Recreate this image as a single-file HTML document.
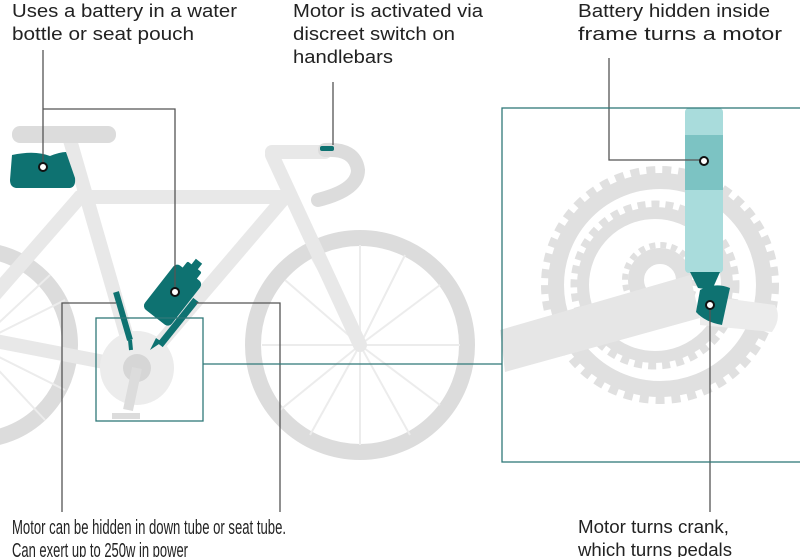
<!DOCTYPE html>
<html><head><style>html,body{margin:0;padding:0;background:#fff;}svg{display:block}</style></head>
<body>
<svg width="800" height="557" viewBox="0 0 800 557" xmlns="http://www.w3.org/2000/svg" font-family="'Liberation Sans', sans-serif" font-size="18" fill="#222">
<g stroke="#dcdcdc" fill="none">
<circle cx="-25" cy="345" r="95" stroke-width="16"/>
<circle cx="360" cy="345" r="107" stroke-width="16"/>
</g>
<g stroke="#ececec" stroke-width="2">
<line x1="360" y1="345" x2="360" y2="245"/><line x1="360" y1="345" x2="440" y2="285"/><line x1="360" y1="345" x2="460" y2="345"/><line x1="360" y1="345" x2="440" y2="405"/><line x1="360" y1="345" x2="360" y2="445"/><line x1="360" y1="345" x2="280" y2="410"/><line x1="360" y1="345" x2="262" y2="345"/><line x1="360" y1="345" x2="285" y2="280"/><line x1="360" y1="345" x2="405" y2="255"/><line x1="360" y1="345" x2="410" y2="435"/><line x1="360" y1="345" x2="310" y2="435"/><line x1="360" y1="345" x2="312" y2="258"/>
<line x1="-25" y1="345" x2="65" y2="300"/><line x1="-25" y1="345" x2="65" y2="390"/><line x1="-25" y1="345" x2="45" y2="420"/><line x1="-25" y1="345" x2="50" y2="275"/>
</g>
<g stroke="#e8e8e8" stroke-width="14" stroke-linecap="round" fill="none">
<line x1="70" y1="140" x2="135" y2="365"/>
<line x1="80" y1="197" x2="285" y2="197"/>
<line x1="285" y1="197" x2="150" y2="355"/>
<line x1="272" y1="155" x2="360" y2="345"/>
<line x1="-10" y1="340" x2="135" y2="368"/>
<line x1="80" y1="197" x2="-10" y2="300"/>
<path d="M272 152 L325 152"/>
</g>
<path d="M325 150 Q355 148 358 170 Q358 190 318 200" stroke="#dcdcdc" stroke-width="14" fill="none" stroke-linecap="round"/>
<rect x="320" y="146" width="14" height="5" rx="2" fill="#0e7271"/>
<rect x="12" y="126" width="104" height="17" rx="8" fill="#dcdcdc"/>
<path d="M12 155 Q35 150 50 156 Q60 152 66 152 L75 178 Q76 187 70 188 L16 188 Q10 187 10 180 Z" fill="#0e7271"/>
<circle cx="137" cy="368" r="37" fill="#ececec"/>
<circle cx="137" cy="368" r="14" fill="#d6d6d6"/>
<path d="M137 368 L128 410" stroke="#dcdcdc" stroke-width="10"/>
<rect x="112" y="413" width="28" height="6" fill="#dcdcdc"/>
<line x1="116" y1="292" x2="130" y2="340" stroke="#0e7271" stroke-width="6"/>
<path d="M130 340 L131 350" stroke="#0e7271" stroke-width="4"/>
<g transform="rotate(38 175 292)">
<rect x="158" y="268" width="34" height="56" rx="5" fill="#0e7271"/>
<rect x="166" y="260" width="18" height="10" rx="2" fill="#0e7271"/>
<rect x="171" y="253" width="8" height="8" fill="#0e7271"/>
</g>
<line x1="196" y1="300" x2="160" y2="345" stroke="#0e7271" stroke-width="7"/>
<path d="M162 342 L150 350 L156 338 Z" fill="#0e7271"/>
<!-- right detail gears -->
<g fill="none" stroke="#e0e0e0">
<circle cx="660" cy="285" r="104" stroke-width="16"/>
<circle cx="660" cy="285" r="115" stroke-width="8" stroke-dasharray="9 7"/>
<circle cx="655" cy="285" r="72" stroke-width="12"/>
<circle cx="655" cy="285" r="81" stroke-width="7" stroke-dasharray="8 6"/>
<circle cx="660" cy="280" r="24" stroke-width="16"/>
<circle cx="660" cy="280" r="35" stroke-width="6" stroke-dasharray="6 5"/>
</g>
<path d="M500 330 L690 275 L700 318 L505 372 Z" fill="#e6e6e6"/>
<path d="M700 295 L775 305 Q782 318 772 332 L700 325 Z" fill="#ececec"/>
<rect x="685" y="108" width="38" height="165" rx="4" fill="#a9dcdc"/>
<rect x="685" y="135" width="38" height="55" fill="#7cc3c3"/>
<path d="M690 272 L720 272 L712 290 L698 288 Z" fill="#0e7271"/>
<path d="M700 290 Q715 282 730 288 L722 325 Q705 322 696 312 Z" fill="#0e7271"/>
<g fill="none" stroke="#555" stroke-width="1.3">
<path d="M43 50 V165"/>
<path d="M43 109 H175 V290"/>
<path d="M333 82 V145"/>
<path d="M609 58 V160 H702"/>
<path d="M710 305 V512"/>
<path d="M62 512 V303 H116"/>
<path d="M196 303 H280 V512"/>
</g>
<g fill="none" stroke="#2f7878" stroke-width="1.3">
<rect x="96" y="318" width="107" height="103"/>
<path d="M203 364 H502"/>
<rect x="502" y="108" width="310" height="354"/>
</g>
<g fill="#fff" stroke="#111" stroke-width="2">
<circle cx="43" cy="167" r="4"/><circle cx="175" cy="292" r="4"/><circle cx="704" cy="161" r="4"/><circle cx="710" cy="305" r="4"/>
</g>
<text x="12" y="17" textLength="225" lengthAdjust="spacingAndGlyphs">Uses a battery in a water</text>
<text x="12" y="40" textLength="182" lengthAdjust="spacingAndGlyphs">bottle or seat pouch</text>
<text x="293" y="17" textLength="190" lengthAdjust="spacingAndGlyphs">Motor is activated via</text>
<text x="293" y="40" textLength="162" lengthAdjust="spacingAndGlyphs">discreet switch on</text>
<text x="293" y="63" textLength="100" lengthAdjust="spacingAndGlyphs">handlebars</text>
<text x="578" y="17" textLength="192" lengthAdjust="spacingAndGlyphs">Battery hidden inside</text>
<text x="578" y="40" textLength="204" lengthAdjust="spacingAndGlyphs">frame turns a motor</text>
<g font-size="20">
<text x="12" y="534" textLength="274" lengthAdjust="spacingAndGlyphs">Motor can be hidden in down tube or seat tube.</text>
<text x="12" y="557" textLength="176" lengthAdjust="spacingAndGlyphs">Can exert up to 250w in power</text>
</g>
<text x="578" y="533" textLength="151" lengthAdjust="spacingAndGlyphs">Motor turns crank,</text>
<text x="578" y="556" textLength="154" lengthAdjust="spacingAndGlyphs">which turns pedals</text>
</svg>
</body></html>
